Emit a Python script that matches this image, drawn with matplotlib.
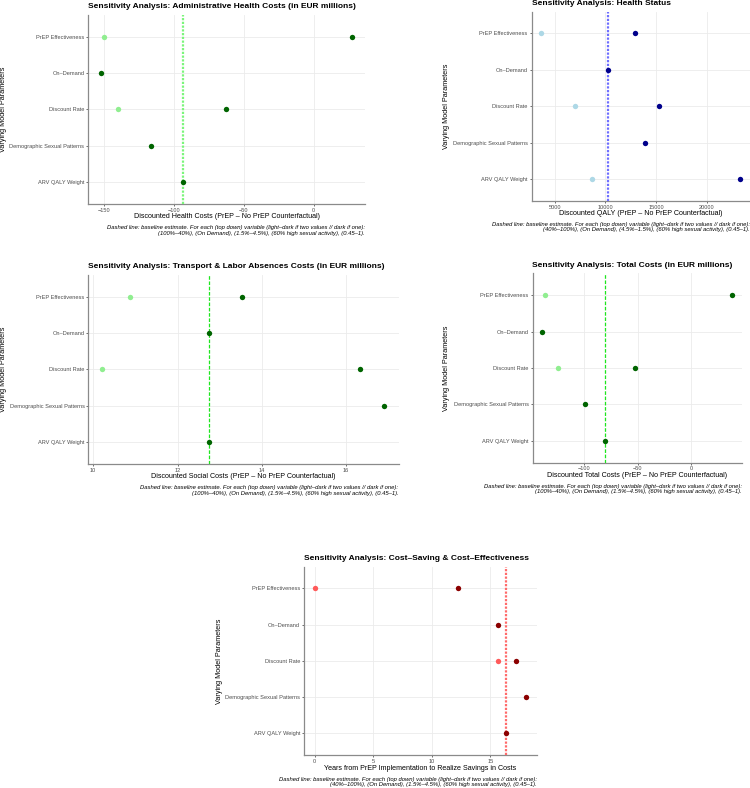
import numpy as np
import matplotlib
matplotlib.use("Agg")
import matplotlib.pyplot as plt

plt.rcParams['font.family'] = ['Liberation Sans', 'DejaVu Sans']
plt.rcParams['lines.scale_dashes'] = False

W, H = 750, 788

categories = ["PrEP Effectiveness", "On–Demand", "Discount Rate",
              "Demographic Sexual Patterns", "ARV QALY Weight"]
nan = np.nan

# Panel 1: Administrative Health Costs
admin_light = [-150.0, nan, -140.0, nan, nan]
admin_dark = [27.8, -152.0, -62.5, -115.9, -93.6]
admin_base = -93.4
admin_ticks = [-150, -100, -50, 0]

# Panel 2: Health Status (QALY)
qaly_light = [3680, nan, 7000, nan, 8650]
qaly_dark = [12890, 10260, 15290, 13940, 23290]
qaly_base = 10230
qaly_ticks = [5000, 10000, 15000, 20000]

# Panel 3: Transport & Labor Absences Costs
social_light = [10.88, nan, 10.22, nan, nan]
social_dark = [13.53, 12.75, 16.33, 16.91, 12.75]
social_base = 12.75
social_ticks = [10, 12, 14, 16]

# Panel 4: Total Costs
total_light = [-136.6, nan, -124.4, nan, nan]
total_dark = [38.7, -139.6, -52.5, -99.3, -80.9]
total_base = -81.0
total_ticks = [-100, -50, 0]

# Panel 5: Cost-saving years
years_light = [0.0, nan, 15.66, nan, nan]
years_dark = [12.25, 15.66, 17.17, 18.07, 16.32]
years_base = 16.32
years_ticks = [0, 5, 10, 15]

cap1 = "Dashed line: baseline estimate. For each (top down) variable (light–dark if two values // dark if one):"
cap_a = "(100%–40%), (On Demand), (1.5%–4.5%), (60% high sexual activity), (0.45–1)."
cap_b = "(40%–100%), (On Demand), (4.5%–1.5%), (60% high sexual activity), (0.45–1)."
cap_c = "(40%–100%), (On Demand), (1.5%–4.5%), (60% high sexual activity), (0.45–1)."

fig = plt.figure(figsize=(W / 100, H / 100), dpi=100)


def fx(px):
    return px / W


def fy(py):
    return 1 - py / H


def panel(box, light, dark, base, ticks, light_c, dark_c, line_c, line_w, dashes,
          title, xlabel, cap2, ylab_x):
    l, t, r, b = box
    ax = fig.add_axes([fx(l), fy(b), fx(r) - fx(l), fy(t) - fy(b)])
    ax.set_facecolor('white')
    ax.scatter(dark, categories, s=15, color=dark_c, zorder=4, linewidths=0)
    ax.scatter(light, categories, s=15, color=light_c, zorder=4, linewidths=0)
    ax.margins(x=0.05)
    ax.set_ylim(len(categories) - 1 + 0.6, -0.6)
    ax.set_xticks(ticks)
    ax.grid(True, color='#EBEBEB', linewidth=0.6, zorder=0)
    ax.set_axisbelow(True)
    ax.axvline(base, color=line_c, linewidth=line_w, dashes=dashes, zorder=3)
    for s in ['top', 'right']:
        ax.spines[s].set_visible(False)
    for s in ['left', 'bottom']:
        ax.spines[s].set_color('#8A8A8A')
        ax.spines[s].set_linewidth(0.9)
    ax.tick_params(axis='both', labelsize=4.05, colors='#333333', labelcolor='#4D4D4D',
                   length=1.6, width=0.5, pad=1.2)
    cx = (l + r) / 2
    fig.text(fx(l), fy(t - 8), title, fontsize=6.0, fontweight='bold',
             ha='left', va='center')
    fig.text(fx(cx), fy(b + 13), xlabel, fontsize=5.15, ha='center', va='center')
    fig.text(fx(r), fy(b + 26.5), cap1 + "\n" + cap2, fontsize=4.2, style='italic',
             ha='right', va='center', linespacing=1.05)
    fig.text(fx(ylab_x), fy((t + b) / 2), "Varying Model Parameters", fontsize=5.2,
             rotation=90, ha='center', va='center')
    return ax


green_l, green_d = '#90EE90', '#006400'

panel((88.3, 14.8, 365.0, 204.0), admin_light, admin_dark, admin_base, admin_ticks,
      green_l, green_d, '#7CF57C', 1.6, (1.6, 1.1),
      "Sensitivity Analysis: Administrative Health Costs (in EUR millions)",
      "Discounted Health Costs (PrEP – No PrEP Counterfactual)", cap_a, 4.0)

panel((531.5, 11.5, 750.0, 200.8), qaly_light, qaly_dark, qaly_base, qaly_ticks,
      '#ADD8E6', '#00008B', '#6E6EFF', 1.6, (1.6, 1.1),
      "Sensitivity Analysis: Health Status",
      "Discounted QALY (PrEP – No PrEP Counterfactual)", cap_b, 446.0)

panel((88.4, 274.9, 398.5, 464.0), social_light, social_dark, social_base, social_ticks,
      green_l, green_d, '#1EE61E', 0.9, (2.6, 1.2),
      "Sensitivity Analysis: Transport & Labor Absences Costs (in EUR millions)",
      "Discounted Social Costs (PrEP – No PrEP Counterfactual)", cap_a, 4.0)

panel((532.5, 273.4, 741.8, 462.6), total_light, total_dark, total_base, total_ticks,
      green_l, green_d, '#1EE61E', 0.9, (2.6, 1.2),
      "Sensitivity Analysis: Total Costs (in EUR millions)",
      "Discounted Total Costs (PrEP – No PrEP Counterfactual)", cap_a, 447.0)

panel((304.0, 566.5, 536.8, 755.2), years_light, years_dark, years_base, years_ticks,
      '#FF5A5A', '#8B0000', '#FF6A6A', 1.6, (1.6, 1.1),
      "Sensitivity Analysis: Cost–Saving & Cost–Effectiveness",
      "Years from PrEP Implementation to Realize Savings in Costs", cap_c, 219.5)

fig.savefig("out.png", dpi=100, facecolor='white')
